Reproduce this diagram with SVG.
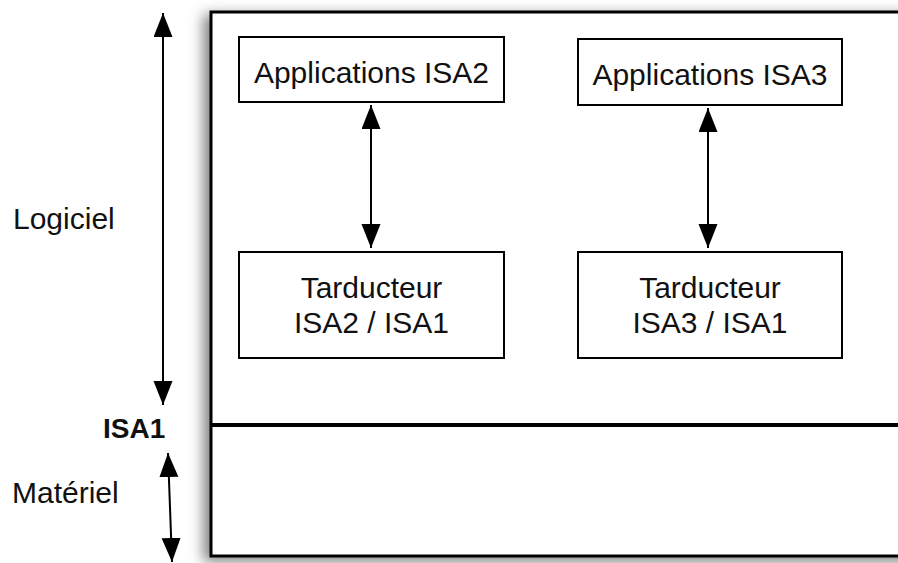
<svg xmlns="http://www.w3.org/2000/svg" width="898" height="563" viewBox="0 0 898 563">
<style>
.box{fill:#fff;stroke:#000;stroke-width:2}
.t{font-family:"Liberation Sans",Arial,Helvetica,sans-serif;font-size:30px;fill:#111}
.c{text-anchor:middle}
.b{font-weight:bold;font-size:28px}
.conn{stroke:#000;stroke-width:2;fill:none;marker-start:url(#ah);marker-end:url(#ah)}
</style>
<defs>
<marker id="ah" markerUnits="userSpaceOnUse" markerWidth="26" markerHeight="20" refX="24" refY="9.5" orient="auto-start-reverse">
<path d="M0,0 L24,9.5 L0,19 Z" fill="#000"/>
</marker>
<filter id="sh" x="-10%" y="-10%" width="120%" height="120%">
<feDropShadow dx="-6" dy="4" stdDeviation="7" flood-color="#000" flood-opacity="0.5"/>
</filter>
</defs>
<rect width="898" height="563" fill="#fff"/>
<g id="frame">
<rect x="211" y="12" width="720" height="544" fill="#fff" stroke="#000" stroke-width="3" filter="url(#sh)"/>
<line x1="211" y1="425" x2="898" y2="425" stroke="#000" stroke-width="4"/>
</g>
<g id="app2">
<rect class="box" x="239" y="37" width="265" height="65"/>
<text class="t c" x="371.5" y="83">Applications ISA2</text>
</g>
<g id="app3">
<rect class="box" x="578" y="39" width="264" height="66"/>
<text class="t c" x="710" y="85">Applications ISA3</text>
</g>
<g id="trad2">
<rect class="box" x="239" y="252" width="265" height="106"/>
<text class="t c" x="371.5" y="298">Tarducteur</text>
<text class="t c" x="371.5" y="333">ISA2 / ISA1</text>
</g>
<g id="trad3">
<rect class="box" x="578" y="252" width="264" height="106"/>
<text class="t c" x="710" y="298">Tarducteur</text>
<text class="t c" x="710" y="333">ISA3 / ISA1</text>
</g>
<g id="labels">
<text class="t" x="13" y="229">Logiciel</text>
<text class="t b" x="103" y="438">ISA1</text>
<text class="t" x="12" y="503">Matériel</text>
</g>
<g id="connectors">
<line class="conn" x1="371" y1="105" x2="371" y2="248"/>
<line class="conn" x1="708" y1="108" x2="708" y2="248"/>
<line class="conn" x1="163" y1="13" x2="163" y2="405"/>
<line class="conn" x1="168" y1="453" x2="172" y2="562"/>
</g>
</svg>
